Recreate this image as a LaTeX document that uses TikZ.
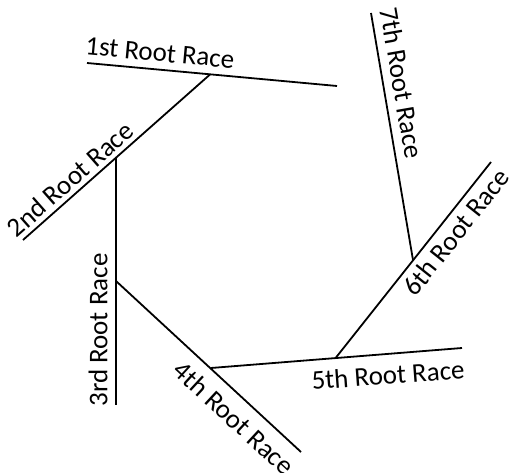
\documentclass[tikz,border=0pt]{standalone}
\usepackage{fontspec}
\setmainfont{Carlito}
\begin{document}
\begin{tikzpicture}[x=1pt,y=-1pt,
  race/.style={line width=1.8pt, line cap=butt},
  lbl/.style={inner sep=0pt, font=\fontsize{27}{30}\selectfont}]
\useasboundingbox (0,0) rectangle (509,473);
% line end points
\coordinate (a1) at (87,63);   \coordinate (b1) at (337,86);
\coordinate (a2) at (23,240);  \coordinate (b2) at (210,74.5);
\coordinate (a3) at (116,158); \coordinate (b3) at (116,405);
\coordinate (a4) at (116,281); \coordinate (b4) at (301,452);
\coordinate (a5) at (211,368); \coordinate (b5) at (462,348);
\coordinate (a6) at (336,357.5); \coordinate (b6) at (491,162);
\coordinate (a7) at (371,13);  \coordinate (b7) at (413,260);
\draw[race] (a1) -- (b1);
\draw[race] (a2) -- (b2);
\draw[race] (a3) -- (b3);
\draw[race] (a4) -- (b4);
\draw[race] (a5) -- (b5);
\draw[race] (a6) -- (b6);
\draw[race] (a7) -- (b7);
% labels
\node[lbl, rotate=-5.3]  (t1) at (160,53)  {1st Root Race};
\node[lbl, rotate=41.4]  (t2) at (70,179)  {2nd Root Race};
\node[lbl, rotate=90]    (t3) at (98,330)  {3rd Root Race};
\node[lbl, rotate=-42.75] (t4) at (234,418) {4th Root Race};
\node[lbl, rotate=4.3]   (t5) at (388,375) {5th Root Race};
\node[lbl, rotate=51.5]  (t6) at (456,232) {6th Root Race};
\node[lbl, rotate=-80.2] (t7) at (402,83)  {7th Root Race};
\end{tikzpicture}
\end{document}
